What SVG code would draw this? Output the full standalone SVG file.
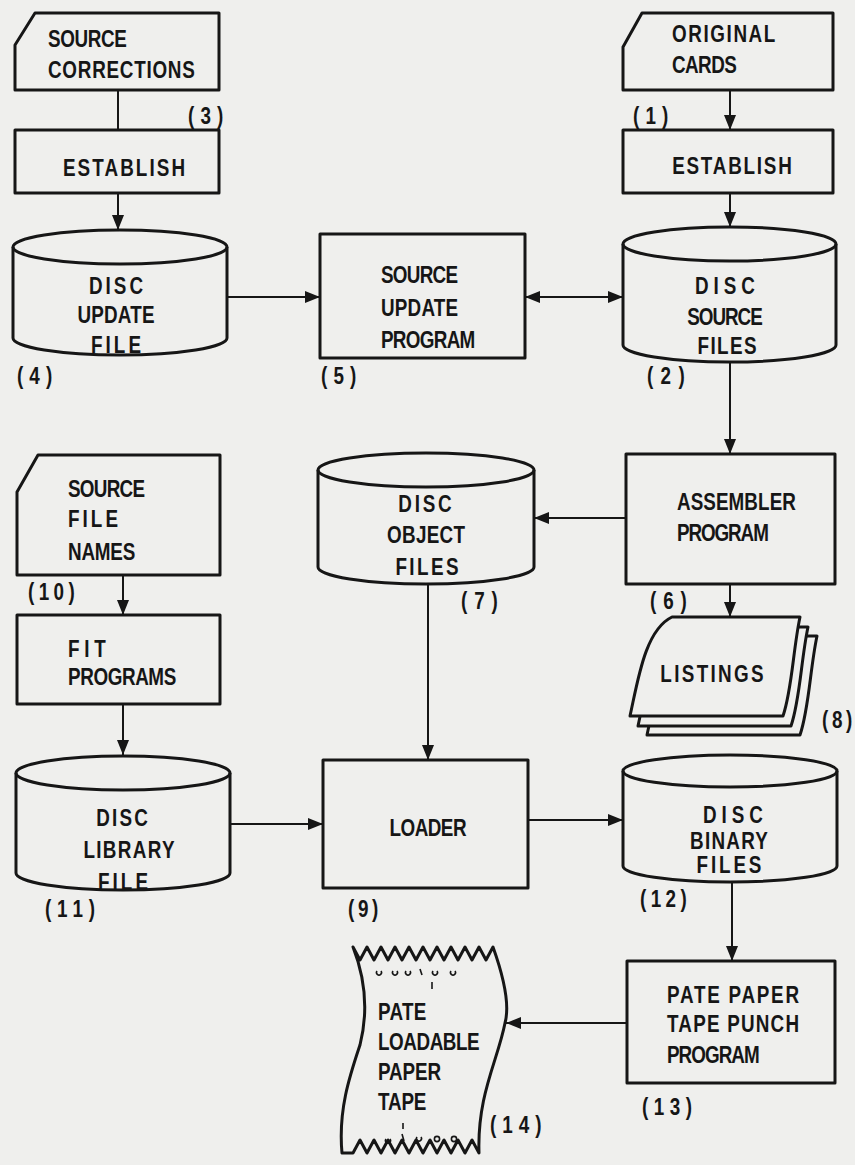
<svg xmlns="http://www.w3.org/2000/svg" width="855" height="1165" viewBox="0 0 855 1165">
<style>
.bg{fill:#efefed}
.s{fill:none;stroke:#161616;stroke-width:3;stroke-linejoin:round}
.f{fill:#efefed;stroke:#161616;stroke-width:3;stroke-linejoin:round}
.c{fill:none;stroke:#161616;stroke-width:2}
.a{marker-end:url(#ah)}
.t{font-family:"Liberation Sans","Arimo","DejaVu Sans",sans-serif;font-size:23px;font-weight:bold;fill:#161616;transform-box:fill-box;transform-origin:left center;transform:scaleX(0.82)}
.m{text-anchor:middle;transform-origin:center}
.d{fill:none;stroke:#161616;stroke-width:1.6}
</style>
<defs>
<marker id="ah" markerUnits="userSpaceOnUse" markerWidth="15" markerHeight="12" refX="15" refY="6" orient="auto-start-reverse"><path d="M0,0 L15,6 L0,12 Z" fill="#161616"/></marker>
</defs>
<rect class="bg" x="0" y="0" width="855" height="1165"/>

<g id="connectors">
<line class="c" x1="118" y1="90" x2="118" y2="130"/>
<line class="c a" x1="118" y1="193" x2="118" y2="230"/>
<line class="c a" x1="730" y1="90" x2="730" y2="130"/>
<line class="c a" x1="730" y1="193" x2="730" y2="227"/>
<line class="c a" x1="227" y1="297" x2="320" y2="297"/>
<line class="c a" x1="525" y1="297" x2="623" y2="297" style="marker-start:url(#ah)"/>
<line class="c a" x1="730" y1="362" x2="730" y2="454"/>
<line class="c a" x1="626" y1="518" x2="534" y2="518"/>
<line class="c a" x1="730" y1="584" x2="730" y2="617"/>
<line class="c a" x1="123" y1="575" x2="123" y2="615"/>
<line class="c a" x1="123" y1="704" x2="123" y2="755"/>
<line class="c a" x1="428" y1="584" x2="428" y2="760"/>
<line class="c a" x1="230" y1="824" x2="323" y2="824"/>
<line class="c a" x1="528" y1="820" x2="623" y2="820"/>
<line class="c a" x1="732" y1="882" x2="732" y2="961"/>
<line class="c a" x1="627" y1="1023" x2="506" y2="1023"/>
</g>

<g id="n3">
<path class="f" d="M35,13 H219 V90 H15 V45 Z"/>
<text class="t" x="48" y="47" textLength="96" lengthAdjust="spacing">SOURCE</text>
<text class="t" x="48" y="78" textLength="179" lengthAdjust="spacing">CORRECTIONS</text>
<text class="t" x="188" y="124" textLength="43" lengthAdjust="spacing">(3)</text>
</g>

<g id="establish-left">
<rect class="f" x="15" y="130" width="204" height="63"/>
<text class="t m" x="124" y="176" textLength="149" lengthAdjust="spacing">ESTABLISH</text>
</g>

<g id="n1">
<path class="f" d="M642,13 H833 V90 H623 V47 Z"/>
<text class="t" x="672" y="42" textLength="126" lengthAdjust="spacing">ORIGINAL</text>
<text class="t" x="672" y="73" textLength="79" lengthAdjust="spacing">CARDS</text>
<text class="t" x="633" y="124" textLength="43" lengthAdjust="spacing">(1)</text>
</g>

<g id="establish-right">
<rect class="f" x="623" y="130" width="210" height="63"/>
<text class="t m" x="732" y="174" textLength="146" lengthAdjust="spacing">ESTABLISH</text>
</g>

<g id="n4">
<path class="f" d="M13,247 A107,17 0 0 1 227,247 V338 A107,17 0 0 1 13,338 Z"/>
<path class="s" d="M13,247 A107,17 0 0 0 227,247"/>
<text class="t m" x="116" y="294" textLength="66" lengthAdjust="spacing">DISC</text>
<text class="t m" x="116" y="323" textLength="94" lengthAdjust="spacing">UPDATE</text>
<text class="t m" x="116" y="353" textLength="61" lengthAdjust="spacing">FILE</text>
<text class="t" x="17" y="384" textLength="43" lengthAdjust="spacing">(4)</text>
</g>

<g id="n5">
<rect class="f" x="320" y="234" width="205" height="124"/>
<text class="t" x="381" y="283" textLength="94" lengthAdjust="spacing">SOURCE</text>
<text class="t" x="381" y="316" textLength="94" lengthAdjust="spacing">UPDATE</text>
<text class="t" x="381" y="348" textLength="115" lengthAdjust="spacing">PROGRAM</text>
<text class="t" x="321" y="384" textLength="43" lengthAdjust="spacing">(5)</text>
</g>

<g id="n2">
<path class="f" d="M623,244 A106.5,17 0 0 1 836,244 V345 A106.5,17 0 0 1 623,345 Z"/>
<path class="s" d="M623,244 A106.5,17 0 0 0 836,244"/>
<text class="t m" x="725" y="294" textLength="73" lengthAdjust="spacing">DISC</text>
<text class="t m" x="725" y="325" textLength="92" lengthAdjust="spacing">SOURCE</text>
<text class="t m" x="727" y="354" textLength="72" lengthAdjust="spacing">FILES</text>
<text class="t" x="647" y="384" textLength="46" lengthAdjust="spacing">(2)</text>
</g>

<g id="n6">
<rect class="f" x="626" y="454" width="209" height="130"/>
<text class="t" x="677" y="510" textLength="145" lengthAdjust="spacing">ASSEMBLER</text>
<text class="t" x="677" y="541" textLength="112" lengthAdjust="spacing">PROGRAM</text>
<text class="t" x="650" y="609" textLength="45" lengthAdjust="spacing">(6)</text>
</g>

<g id="n7">
<path class="f" d="M318,470 A108,17 0 0 1 534,470 V567 A108,17 0 0 1 318,567 Z"/>
<path class="s" d="M318,470 A108,17 0 0 0 534,470"/>
<text class="t m" x="425" y="512" textLength="65" lengthAdjust="spacing">DISC</text>
<text class="t m" x="426" y="543" textLength="95" lengthAdjust="spacing">OBJECT</text>
<text class="t m" x="427" y="575" textLength="77" lengthAdjust="spacing">FILES</text>
<text class="t" x="461" y="609" textLength="45" lengthAdjust="spacing">(7)</text>
</g>

<g id="n8">
<path class="f" d="M689,636 H817 C810,669 809,709 800,735 H647 C655,699 662,649 689,636 Z"/>
<path class="f" d="M680,627 H808 C801,660 800,700 791,726 H638 C646,690 653,640 680,627 Z"/>
<path class="f" d="M672,617 H800 C793,650 792,690 783,716 H630 C638,680 645,630 672,617 Z"/>
<text class="t m" x="712" y="682" textLength="126" lengthAdjust="spacing">LISTINGS</text>
<text class="t" x="822" y="728" textLength="37" lengthAdjust="spacing">(8)</text>
</g>

<g id="n10">
<path class="f" d="M38,455 H220 V575 H17 V492 Z"/>
<text class="t" x="68" y="497" textLength="94" lengthAdjust="spacing">SOURCE</text>
<text class="t" x="68" y="527" textLength="61" lengthAdjust="spacing">FILE</text>
<text class="t" x="68" y="560" textLength="82" lengthAdjust="spacing">NAMES</text>
<text class="t" x="28" y="600" textLength="57" lengthAdjust="spacing">(10)</text>
</g>

<g id="fit">
<rect class="f" x="17" y="615" width="203" height="89"/>
<text class="t" x="68" y="657" textLength="46" lengthAdjust="spacing">FIT</text>
<text class="t" x="68" y="685" textLength="132" lengthAdjust="spacing">PROGRAMS</text>
</g>

<g id="n11">
<path class="f" d="M16,773 A107,17 0 0 1 230,773 V873 A107,17 0 0 1 16,873 Z"/>
<path class="s" d="M16,773 A107,17 0 0 0 230,773"/>
<text class="t m" x="122" y="826" textLength="63" lengthAdjust="spacing">DISC</text>
<text class="t m" x="129" y="858" textLength="111" lengthAdjust="spacing">LIBRARY</text>
<text class="t m" x="123" y="890" textLength="61" lengthAdjust="spacing">FILE</text>
<text class="t" x="45" y="917" textLength="61" lengthAdjust="spacing">(11)</text>
</g>

<g id="n9">
<rect class="f" x="323" y="760" width="205" height="128"/>
<text class="t m" x="428" y="836" textLength="94" lengthAdjust="spacing">LOADER</text>
<text class="t" x="348" y="917" textLength="37" lengthAdjust="spacing">(9)</text>
</g>

<g id="n12">
<path class="f" d="M623,771 A107,16 0 0 1 837,771 V866 A107,16 0 0 1 623,866 Z"/>
<path class="s" d="M623,771 A107,16 0 0 0 837,771"/>
<text class="t m" x="733" y="823" textLength="73" lengthAdjust="spacing">DISC</text>
<text class="t m" x="729" y="849" textLength="95" lengthAdjust="spacing">BINARY</text>
<text class="t m" x="729" y="873" textLength="79" lengthAdjust="spacing">FILES</text>
<text class="t" x="640" y="907" textLength="57" lengthAdjust="spacing">(12)</text>
</g>

<g id="n13">
<rect class="f" x="627" y="961" width="208" height="122"/>
<text class="t" x="667" y="1003" textLength="161" lengthAdjust="spacing">PATE PAPER</text>
<text class="t" x="667" y="1032" textLength="161" lengthAdjust="spacing">TAPE PUNCH</text>
<text class="t" x="667" y="1063" textLength="113" lengthAdjust="spacing">PROGRAM</text>
<text class="t" x="642" y="1115" textLength="61" lengthAdjust="spacing">(13)</text>
</g>

<g id="n14">
<path class="f" d="M353,947 L360,960 L367,947 L374,960 L381,947 L388,960 L395,947 L402,960 L409,947 L416,960 L423,947 L430,960 L437,947 L444,960 L451,947 L458,960 L465,947 L472,960 L479,947 L486,960 L493,947 C503,975 510,1005 505,1023 C498,1060 477,1095 479,1153 L472,1140 L465,1153 L458,1140 L451,1153 L444,1140 L437,1153 L430,1140 L423,1153 L416,1140 L409,1153 L402,1140 L395,1153 L388,1140 L381,1153 L374,1140 L367,1153 L360,1140 L353,1153 L342,1153 C338,1110 350,1075 360,1045 C370,1005 362,970 353,947 Z"/>
<g class="d">
<path d="M377,971 a2.5,2.5 0 1 0 4,0"/>
<path d="M393,971 a2.5,2.5 0 1 0 4,0"/>
<path d="M406,971 a2.5,2.5 0 1 0 4,0"/>
<line x1="420" y1="969" x2="422" y2="975"/>
<path d="M433,971 a2.5,2.5 0 1 0 4,0"/>
<path d="M451,971 a2.5,2.5 0 1 0 4,0"/>
<line x1="432" y1="982" x2="432" y2="989"/>
<line x1="403" y1="1123" x2="403" y2="1129"/>
<path d="M386,1139 a2.5,2.5 0 1 0 4,0"/>
<line x1="402" y1="1134" x2="404" y2="1141"/>
<path d="M417,1137 a2.5,2.5 0 1 0 4,0"/>
<circle cx="437" cy="1139" r="2.6"/>
<circle cx="454" cy="1139" r="2.6"/>
</g>
<text class="t" x="378" y="1020" textLength="59" lengthAdjust="spacing">PATE</text>
<text class="t" x="378" y="1050" textLength="124" lengthAdjust="spacing">LOADABLE</text>
<text class="t" x="378" y="1080" textLength="77" lengthAdjust="spacing">PAPER</text>
<text class="t" x="378" y="1110" textLength="59" lengthAdjust="spacing">TAPE</text>
<text class="t" x="490" y="1133" textLength="63" lengthAdjust="spacing">(14)</text>
</g>
</svg>
